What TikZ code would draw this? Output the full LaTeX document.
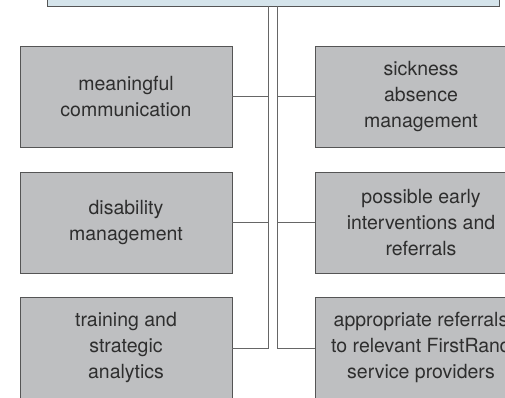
\documentclass[tikz,border=0pt]{standalone}
\usepackage{fontspec}
\setmainfont{TeX Gyre Heros}
\usepackage{tikz}
\definecolor{boxgray}{HTML}{BEBFC1}
\definecolor{topblue}{HTML}{D5E4EB}
\definecolor{edgegray}{HTML}{555555}
\definecolor{textgray}{HTML}{2E2E2E}
\tikzset{%
  areanode/.style = {shape=rectangle, draw=edgegray, line width=0.9pt,%
                     fill=boxgray, align=center, text=textgray,%
                     minimum width=212pt, minimum height=101pt,%
                     font=\fontsize{19.5}{26}\selectfont},%
  headnode/.style = {areanode, fill=topblue, minimum width=452pt, minimum height=40pt},%
  link/.style     = {draw=edgegray!90, line width=0.8pt}%
}

\begin{document}
\begin{tikzpicture}[x=1pt,y=-1pt]
		\clip (0,0) rectangle (505,398);
		\node [headnode] (head) at (273,-14) {};
		% left column
		\node [areanode] (comm) at (126,96.5) {meaningful\\communication};
		\node [areanode] (disab) at (126,222.5) {disability\\management};
		\node [areanode] (train) at (126,347.5) {training and\\strategic\\analytics};
		% right column
		\node [areanode] (sick) at (421,96.5) {sickness\\absence\\management};
		\node [areanode] (early) at (421,222.5) {possible early\\interventions and\\referrals};
		\node [areanode] (refer) at (421,347.5) {appropriate referrals\\to relevant FirstRand\\service providers};
		% spine
		\coordinate (lbend) at (268,348);
		\coordinate (rbend) at (277,348);
		\draw [link] (head.south -| lbend) -- (lbend) -- (lbend -| train.east);
		\draw [link] (head.south -| rbend) -- (rbend) -- (rbend -| refer.west);
		\draw [link] (comm.east) -- (comm.east -| lbend);
		\draw [link] (disab.east) -- (disab.east -| lbend);
		\draw [link] (sick.west) -- (sick.west -| rbend);
		\draw [link] (early.west) -- (early.west -| rbend);
\end{tikzpicture}
\end{document}
